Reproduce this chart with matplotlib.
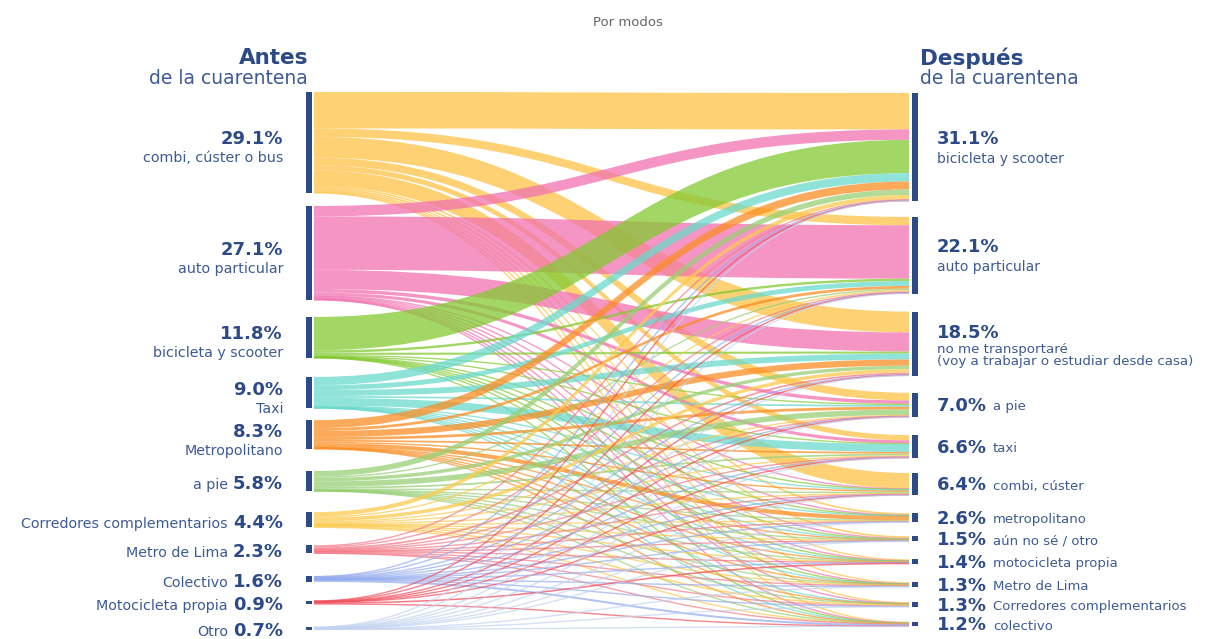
import matplotlib
matplotlib.use("Agg")
import matplotlib.pyplot as plt
from matplotlib.path import Path
from matplotlib.patches import PathPatch, Rectangle
import numpy as np

plt.rcParams['font.family'] = ['DejaVu Sans']

# modos antes de la cuarentena (nodos de la izquierda)
antes = ["combi, cúster o bus", "auto particular", "bicicleta y scooter", "Taxi",
         "Metropolitano", "a pie", "Corredores complementarios", "Metro de Lima",
         "Colectivo", "Motocicleta propia", "Otro"]
antes_pct = [29.1, 27.1, 11.8, 9.0, 8.3, 5.8, 4.4, 2.3, 1.6, 0.9, 0.7]

# modos después de la cuarentena (nodos de la derecha)
despues = ["bicicleta y scooter", "auto particular",
           "no me transportaré\n(voy a trabajar o estudiar desde casa)",
           "a pie", "taxi", "combi, cúster", "metropolitano", "aún no sé / otro",
           "motocicleta propia", "Metro de Lima", "Corredores complementarios",
           "colectivo"]
despues_pct = [31.1, 22.1, 18.5, 7.0, 6.6, 6.4, 2.6, 1.5, 1.4, 1.3, 1.3, 1.2]

# flujos: fila = modo antes, columna = modo después (en %)
flujos = np.array([
    [10.5, 2.4, 6.0, 2.2, 1.5, 4.5, 0.5, 0.5, 0.3, 0.3, 0.3, 0.1],
    [3.0, 15.4, 5.5, 1.0, 0.9, 0.2, 0.2, 0.3, 0.2, 0.2, 0.1, 0.1],
    [9.6, 0.7, 0.6, 0.3, 0.2, 0.1, 0.05, 0.1, 0.05, 0.05, 0.0, 0.05],
    [2.4, 1.4, 1.7, 0.5, 2.25, 0.25, 0.1, 0.1, 0.1, 0.1, 0.05, 0.05],
    [2.3, 0.8, 1.8, 0.8, 0.5, 0.4, 1.2, 0.1, 0.1, 0.1, 0.1, 0.1],
    [1.6, 0.4, 1.0, 1.6, 0.5, 0.3, 0.1, 0.1, 0.05, 0.05, 0.05, 0.05],
    [1.2, 0.4, 1.0, 0.3, 0.3, 0.3, 0.15, 0.1, 0.05, 0.1, 0.45, 0.05],
    [0.3, 0.3, 0.5, 0.1, 0.2, 0.15, 0.2, 0.05, 0.05, 0.3, 0.1, 0.05],
    [0.1, 0.1, 0.2, 0.1, 0.15, 0.1, 0.05, 0.05, 0.05, 0.05, 0.1, 0.55],
    [0.05, 0.1, 0.1, 0.05, 0.05, 0.05, 0.0, 0.0, 0.45, 0.0, 0.0, 0.05],
    [0.05, 0.1, 0.1, 0.05, 0.05, 0.05, 0.05, 0.1, 0.0, 0.05, 0.05, 0.05],
])

colores = ["#FDC245", "#F272B0", "#83CA32", "#6ADACC", "#FA8E24", "#98CF76",
           "#FCCA4E", "#F47A88", "#94ABEE", "#F0505E", "#C3D3F0"]

AZUL = "#2C4A87"
AZUL2 = "#3D5A94"

ESC = 3.47            # px por punto porcentual
X_IZQ, X_DER = 314, 909
gaps_izq = [13, 17, 19, 12, 22, 21, 18, 23, 19, 23]
gaps_der = [16, 18, 17, 18, 15, 18, 14, 18, 18, 15.5, 15.5]


def tops(pcts, y0, gaps):
    out = []
    y = y0
    for i, p in enumerate(pcts):
        if i > 0:
            y += gaps[i - 1]
        out.append(y)
        y += p * ESC
    return out


top_izq = tops(antes_pct, 92, gaps_izq)
top_der = tops(despues_pct, 93, gaps_der)

fig = plt.figure(figsize=(12.18, 6.39), dpi=100)
ax = fig.add_axes([0, 0, 1, 1])
ax.set_xlim(0, 1218)
ax.set_ylim(639, 0)
ax.axis('off')


def banda(a0, b0, a1, b1, color):
    xm = (X_IZQ + X_DER) / 2
    h = b0 - a0
    if h < 1.3:
        c0 = (a0 + b0) / 2
        c1 = (a1 + b1) / 2
        verts = [(X_IZQ, c0), (xm, c0), (xm, c1), (X_DER, c1)]
        codes = [Path.MOVETO, Path.CURVE4, Path.CURVE4, Path.CURVE4]
        ax.add_patch(PathPatch(Path(verts, codes), fill=False, edgecolor=color,
                               lw=1.0, alpha=0.7))
        return
    verts = [(X_IZQ, a0), (xm, a0), (xm, a1), (X_DER, a1), (X_DER, b1),
             (xm, b1), (xm, b0), (X_IZQ, b0), (X_IZQ, a0)]
    codes = [Path.MOVETO, Path.CURVE4, Path.CURVE4, Path.CURVE4, Path.LINETO,
             Path.CURVE4, Path.CURVE4, Path.CURVE4, Path.CLOSEPOLY]
    ax.add_patch(PathPatch(Path(verts, codes), facecolor=color, edgecolor='none',
                           alpha=0.75))


# posiciones de salida y llegada de cada flujo
off_izq = list(top_izq)
off_der = list(top_der)
pos = {}
for i in range(len(antes)):
    for j in range(len(despues)):
        h = flujos[i, j] * ESC
        pos[(i, j)] = [off_izq[i], off_izq[i] + h]
        off_izq[i] += h
for j in range(len(despues)):
    for i in range(len(antes)):
        h = flujos[i, j] * ESC
        pos[(i, j)] += [off_der[j], off_der[j] + h]
        off_der[j] += h

for i in range(len(antes)):
    for j in range(len(despues)):
        if flujos[i, j] <= 0:
            continue
        a0, b0, a1, b1 = pos[(i, j)]
        banda(a0, b0, a1, b1, colores[i])

# barras de los nodos
for t, p in zip(top_izq, antes_pct):
    h = max(p * ESC, 3)
    ax.add_patch(Rectangle((306, t), 6, h, color=AZUL, lw=0))
for t, p in zip(top_der, despues_pct):
    h = max(p * ESC, 3)
    ax.add_patch(Rectangle((912, t), 6, h, color=AZUL, lw=0))

# encabezados
ax.text(628, 22, "Por modos", ha='center', va='center', fontsize=9.5, color='#666666')
ax.text(308, 58, "Antes", ha='right', va='center', fontsize=15.5, fontweight='bold', color=AZUL)
ax.text(308, 78, "de la cuarentena", ha='right', va='center', fontsize=13.5, color=AZUL2)
ax.text(920, 58, "Después", ha='left', va='center', fontsize=15.5, fontweight='bold', color=AZUL)
ax.text(920, 78, "de la cuarentena", ha='left', va='center', fontsize=13.5, color=AZUL2)

fig.canvas.draw()
rend = fig.canvas.get_renderer()

# etiquetas de la izquierda
for i, (nom, p) in enumerate(zip(antes, antes_pct)):
    c = top_izq[i] + p * ESC / 2
    txt = f"{p:.1f}%"
    if i < 5:
        ax.text(283, c - 3, txt, ha='right', va='center', fontsize=13,
                fontweight='bold', color=AZUL)
        ax.text(283, c + 16, nom, ha='right', va='center', fontsize=10.3, color=AZUL2)
    else:
        t = ax.text(283, c + 3, txt, ha='right', va='center', fontsize=13,
                    fontweight='bold', color=AZUL)
        w = t.get_window_extent(rend).width
        ax.text(283 - w - 5, c + 4, nom, ha='right', va='center', fontsize=10.3,
                color=AZUL2)

# etiquetas de la derecha
for j, (nom, p) in enumerate(zip(despues, despues_pct)):
    c = top_der[j] + p * ESC / 2
    txt = f"{p:.1f}%"
    if j < 2:
        ax.text(937, c - 8, txt, ha='left', va='center', fontsize=13,
                fontweight='bold', color=AZUL)
        ax.text(937, c + 12, nom, ha='left', va='center', fontsize=10, color=AZUL2)
    elif j == 2:
        ax.text(937, c - 11, txt, ha='left', va='center', fontsize=13,
                fontweight='bold', color=AZUL)
        ax.text(937, c + 12, nom, ha='left', va='center', fontsize=9.6,
                color=AZUL2, linespacing=0.95)
    else:
        t = ax.text(937, c + 1, txt, ha='left', va='center', fontsize=13,
                    fontweight='bold', color=AZUL)
        w = t.get_window_extent(rend).width
        ax.text(937 + w + 6, c + 2, nom, ha='left', va='center', fontsize=9.5,
                color=AZUL2)

fig.savefig("out.png", dpi=100)
